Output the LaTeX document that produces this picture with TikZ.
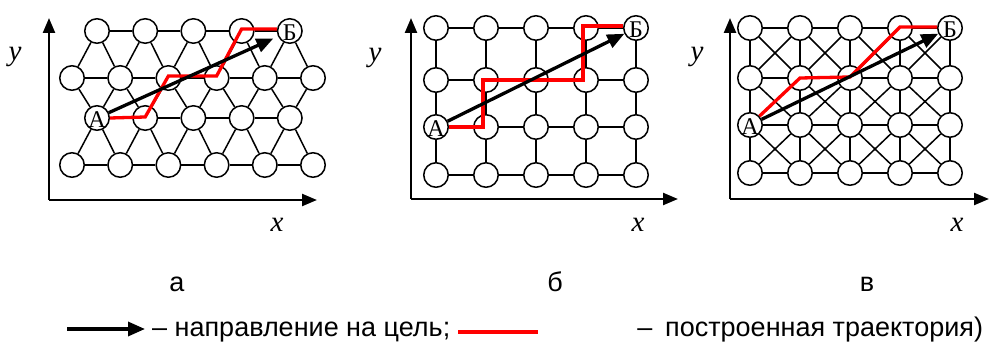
\documentclass[tikz,border=0pt]{standalone}
\usepackage{fontspec}
\setmainfont{Liberation Serif}
\newfontfamily\arialf{Liberation Sans}
\usetikzlibrary{arrows.meta}
\begin{document}
\begin{tikzpicture}[x=1pt,y=-1pt,
 vtx/.style={circle,draw,fill=white,minimum size=24.5pt,inner sep=0pt,line width=1.5pt},
 latt/.style={line width=1.5pt},
 axarrow/.style={line width=2.4pt,-{Triangle[length=15pt,width=12pt]}},
 goalarrow/.style={line width=3.3pt,-{Triangle[length=17pt,width=14pt]}},
 trajline/.style={line width=3.3pt,red,line join=miter},
 lbltext/.style={font=\fontsize{24}{24}\selectfont,inner sep=0pt},
 axltext/.style={font=\fontsize{29}{29}\selectfont\itshape,inner sep=0pt},
 captext/.style={font=\arialf\fontsize{27}{27}\selectfont,inner sep=0pt},
]
\useasboundingbox (0,0) rectangle (989,342);

% ---------------- panel a : triangular lattice ----------------
\foreach \y/\r in {31/1,118/3}
  \foreach \k in {1,...,5}
    \node[vtx] (a-\r-\k) at ({97+48.2*(\k-1)},\y) {};
\foreach \y/\r in {78/2,165/4}
  \foreach \k in {1,...,6}
    \node[vtx] (a-\r-\k) at ({72+48.2*(\k-1)},\y) {};
\foreach \r in {1,3}
  \foreach \p/\q in {1/2,2/3,3/4,4/5}
    \draw[latt] (a-\r-\p) -- (a-\r-\q);
\foreach \r in {2,4}
  \foreach \p/\q in {1/2,2/3,3/4,4/5,5/6}
    \draw[latt] (a-\r-\p) -- (a-\r-\q);
\foreach \r/\s in {1/2,3/2,3/4}
  \foreach \p/\q in {1/2,2/3,3/4,4/5,5/6}
    \draw[latt] (a-\r-\p) -- (a-\s-\p) (a-\r-\p) -- (a-\s-\q);
\node[lbltext] (aAt) at ([yshift=-2pt]a-3-1.center) {А};
\node[lbltext] (aBt) at ([yshift=-2pt]a-1-5.center) {Б};
\coordinate (aO) at (49,200);
\coordinate (aY) at (49,18);
\coordinate (aX) at (317,200);
\draw[axarrow] (aO) -- (aY);
\draw[axarrow] (aO) -- (aX);
\node[axltext] (ay) at (15,57) {y};
\node[axltext] (ax) at (277,225) {x};
\draw[trajline] (a-3-1.east) -- ([yshift=1pt]a-3-2.center) -- ([yshift=2pt]a-2-3.center)
  -- ([yshift=2pt]a-2-4.center) -- ([yshift=2pt]a-1-4.center) -- ([yshift=2pt]a-1-5.west);
\draw[goalarrow,shorten >=5pt] (a-3-1) -- (a-1-5);

% ---------------- panel b : square lattice ----------------
\foreach \y [count=\r] in {28,80,127,175}
  \foreach \x [count=\k] in {436,486,536,586,636}
    \node[vtx] (b-\r-\k) at (\x,\y) {};
\foreach \r in {1,...,4}
  \foreach \p/\q in {1/2,2/3,3/4,4/5}
    \draw[latt] (b-\r-\p) -- (b-\r-\q);
\foreach \r/\s in {1/2,2/3,3/4}
  \foreach \k in {1,...,5}
    \draw[latt] (b-\r-\k) -- (b-\s-\k);
\node[lbltext] (bAt) at ([yshift=-2pt]b-3-1.center) {А};
\node[lbltext] (bBt) at ([yshift=-2pt]b-1-5.center) {Б};
\coordinate (bO) at (411,199);
\coordinate (bY) at (411,18);
\coordinate (bX) at (678,199);
\draw[axarrow] (bO) -- (bY);
\draw[axarrow] (bO) -- (bX);
\node[axltext] (by) at (375,58) {y};
\node[axltext] (bx) at (638,225) {x};
\draw[trajline] (b-3-1.east) -- ([xshift=-3pt]b-3-2.center) -- ([xshift=-3pt]b-2-2.center)
  -- ([xshift=-3pt]b-2-4.center) -- ([xshift=-3pt,yshift=2pt]b-1-4.center) -- ([yshift=2pt]b-1-5.west);
\draw[goalarrow] (b-3-1) -- (b-1-5);

% ---------------- panel c : square lattice with diagonals ----------------
\foreach \y [count=\r] in {28,78,125,173}
  \foreach \x [count=\k] in {750,800,850,900,950}
    \node[vtx] (c-\r-\k) at (\x,\y) {};
\foreach \r in {1,...,4}
  \foreach \p/\q in {1/2,2/3,3/4,4/5}
    \draw[latt] (c-\r-\p) -- (c-\r-\q);
\foreach \r/\s in {1/2,2/3,3/4}
  \foreach \k in {1,...,5}
    \draw[latt] (c-\r-\k) -- (c-\s-\k);
\foreach \r/\s in {1/2,2/3,3/4}
  \foreach \p/\q in {1/2,2/3,3/4,4/5}
    \draw[latt] (c-\r-\p) -- (c-\s-\q) (c-\r-\q) -- (c-\s-\p);
\node[lbltext] (cAt) at ([yshift=-2pt]c-3-1.center) {А};
\node[lbltext] (cBt) at ([yshift=-2pt]c-1-5.center) {Б};
\coordinate (cO) at (730,199);
\coordinate (cY) at (730,18);
\coordinate (cX) at (989,199);
\draw[axarrow] (cO) -- (cY);
\draw[axarrow] (cO) -- (cX);
\node[axltext] (cy) at (697,57) {y};
\node[axltext] (cx) at (957,225) {x};
\draw[trajline] (c-3-1) -- (c-2-2.center) -- ([yshift=1pt]c-2-3.center)
  -- ([yshift=1pt]c-1-4.center) -- ([yshift=1pt]c-1-5.west);
\draw[goalarrow] (c-3-1) -- (c-1-5);

% ---------------- captions and legend ----------------
\node[captext,anchor=base] (capa) at (177,291) {а};
\node[captext,anchor=base] (capb) at (555,291) {б};
\node[captext,anchor=base] (capc) at (867,291) {в};
\coordinate (la1) at (67,329);
\coordinate (la2) at (145,329);
\draw[goalarrow] (la1) -- (la2);
\node[captext,anchor=base west] (lt1) at (152,336.5) {– направление на цель;};
\coordinate (lr1) at (458,332);
\coordinate (lr2) at (538,332);
\draw[trajline,line width=3.5pt] (lr1) -- (lr2);
\node[captext,anchor=base] (lt2) at (645,336.5) {–};
\node[captext,anchor=base west] (lt3) at (665,336.5) {построенная траектория)};
\end{tikzpicture}
\end{document}
